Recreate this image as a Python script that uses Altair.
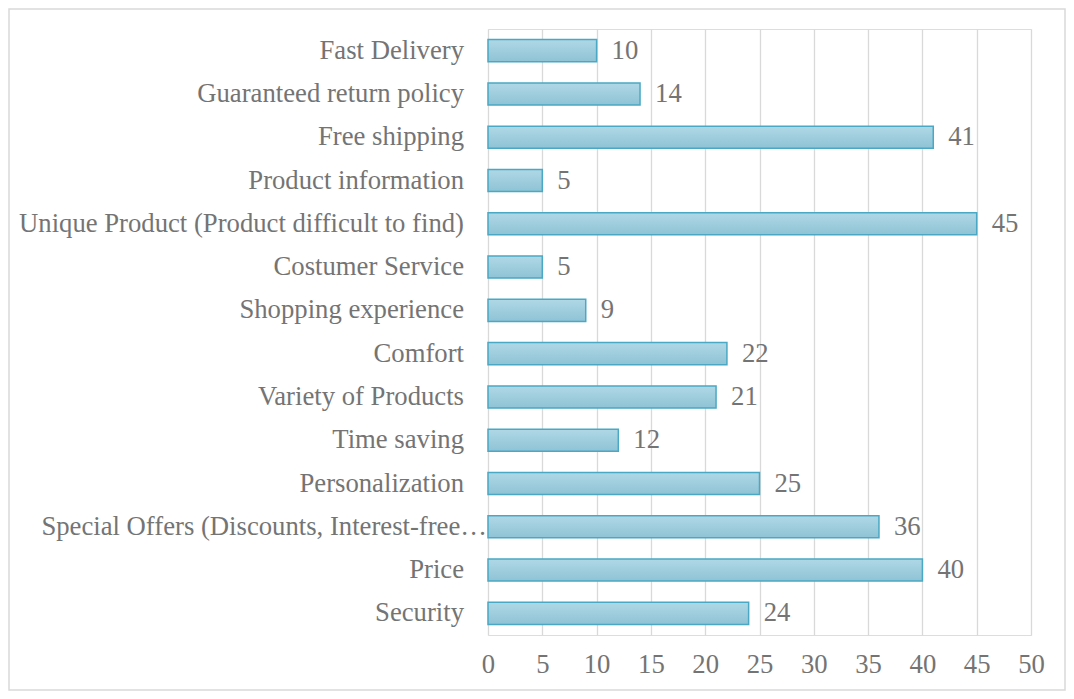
import altair as alt
import pandas as pd

categories = [
    "Fast Delivery",
    "Guaranteed return policy",
    "Free shipping",
    "Product information",
    "Unique Product (Product difficult to find)",
    "Costumer Service",
    "Shopping experience",
    "Comfort",
    "Variety of Products",
    "Time saving",
    "Personalization",
    "Special Offers (Discounts, Interest-free\u2026",
    "Price",
    "Security",
]
values = [10, 14, 41, 5, 45, 5, 9, 22, 21, 12, 25, 36, 40, 24]
x_ticks = [0, 5, 10, 15, 20, 25, 30, 35, 40, 45, 50]
truncated_label = "Special Offers (Discounts, Interest-free\u2026"

df = pd.DataFrame({"category": categories, "value": values})

FONT = "Times New Roman, Liberation Serif, serif"
TXT = "#747474"
FS = 26.7

grad = alt.Gradient(
    gradient="linear",
    stops=[alt.GradientStop(color="#b0d8e6", offset=0),
           alt.GradientStop(color="#8ec3d5", offset=1)],
    x1=0, x2=0, y1=0, y2=1,
)

y_enc = alt.Y("category:N", sort=categories, title=None,
              scale=alt.Scale(paddingInner=0.49, paddingOuter=0.245),
              axis=alt.Axis(domain=False, ticks=False, grid=False, labels=False))
x_enc = alt.X("value:Q", title=None,
              scale=alt.Scale(domain=[0, 50], nice=False),
              axis=alt.Axis(values=x_ticks, domain=False, ticks=False,
                            grid=True, gridColor="#d9d9d9", gridWidth=1.3,
                            labelFlush=False,
                            labelFont=FONT, labelFontSize=FS, labelColor=TXT,
                            labelPadding=16))

bars = alt.Chart(df).mark_bar(color=grad, stroke="#4aa8c4", strokeWidth=1.5).encode(
    y=y_enc, x=x_enc
)
labels = alt.Chart(df).mark_text(align="left", baseline="middle", dx=15,
                                 font=FONT, fontSize=FS, color=TXT).encode(
    y=alt.Y("category:N", sort=categories),
    x=alt.X("value:Q"),
    text=alt.Text("value:Q"),
)
cat_labels = alt.Chart(df).transform_filter(
    alt.datum.category != truncated_label
).mark_text(align="right", baseline="middle", font=FONT, fontSize=FS,
            color=TXT, clip=False).encode(
    y=alt.Y("category:N", sort=categories),
    x=alt.value(-24),
    text="category:N",
)
cat_label_trunc = alt.Chart(df).transform_filter(
    alt.datum.category == truncated_label
).mark_text(align="right", baseline="middle", font=FONT, fontSize=FS,
            color=TXT, clip=False).encode(
    y=alt.Y("category:N", sort=categories),
    x=alt.value(-1),
    text="category:N",
)
border = alt.Chart(pd.DataFrame({"a": [0]})).mark_rect(
    fill=None, stroke="#d9d9d9", strokeWidth=1.5, clip=False
).encode(
    x=alt.value(-479), x2=alt.value(577),
    y=alt.value(-20), y2=alt.value(661),
)

chart = alt.layer(border, bars, labels, cat_labels, cat_label_trunc).properties(
    width=543, height=606,
    autosize=alt.AutoSizeParams(type="none"),
    padding={"left": 480, "top": 21, "right": 35, "bottom": 56},
).configure_view(stroke=None).configure(background="white")

chart.save("out.html", embed_options={"renderer": "svg", "actions": False})
